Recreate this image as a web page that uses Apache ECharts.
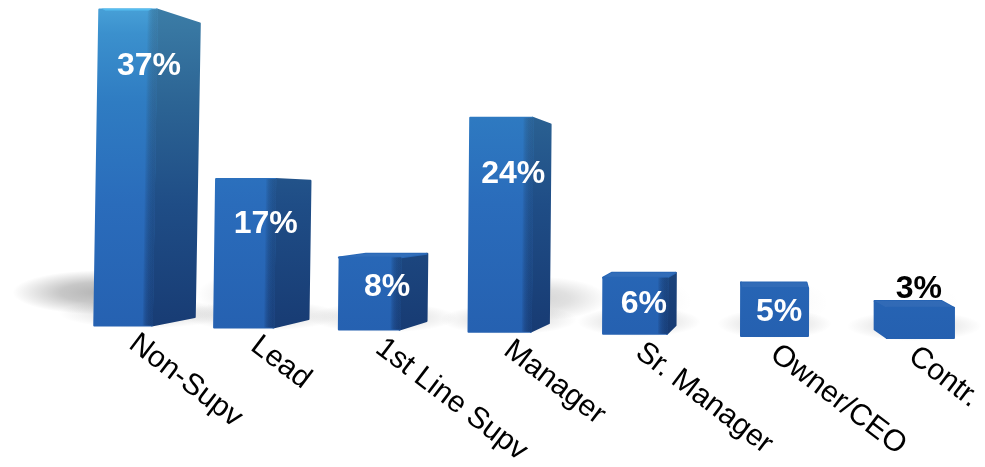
<!DOCTYPE html>
<html>
<head>
<meta charset="utf-8">
<style>html,body{margin:0;padding:0;background:#fff}#chart{width:985px;height:467px}</style>
<script src="https://cdn.jsdelivr.net/npm/echarts@6/dist/echarts.min.js"></script>
</head>
<body>
<div id="chart"></div>
<script>
// Share of respondents by job level
const categories = ['Non-Supv', 'Lead', '1st Line Supv', 'Manager', 'Sr. Manager', 'Owner/CEO', 'Contr.'];
const shares = [37, 17, 8, 24, 6, 5, 3];

const chart = echarts.init(document.getElementById('chart'), null, { renderer: 'canvas' });
const G = echarts.graphic;

// Camera model: how a slot on the flat axes lands on the receding floor.
function project(api, i, v) {
  const base = api.coord([i, -0.3]);
  const top = api.coord([i, v]);
  const centre = base[0] - 13.8 * i + 2.3 * i * i;
  const floor = base[1] + 2.1 * i;
  const h = (base[1] - top[1]) * (1 + 0.013 * i);
  const depth = 43 - 7.4 * i - 0.3 * i * i;
  const front = 57.5 + 1.6 * i;
  const lean = h * 0.016 * (1 - i / 6);
  const total = front + Math.abs(depth);
  return { centre, floor, h, depth, front, lean, total, left: centre - total / 2, top: floor - h };
}

const frontFill = () => new G.LinearGradient(0, 0, 0, 340, [
  { offset: 0, color: '#4ba5da' },
  { offset: 0.1, color: '#3b90cd' },
  { offset: 0.3, color: '#2f7cc2' },
  { offset: 0.6, color: '#2a6cbb' },
  { offset: 1, color: '#2560b0' }
], true);
const sideFill = () => new G.LinearGradient(0, 0, 0, 340, [
  { offset: 0, color: '#3d7fa8' },
  { offset: 0.3, color: '#2c6494' },
  { offset: 0.6, color: '#1f4d86' },
  { offset: 1, color: '#173a72' }
], true);

function poly(points, fill, strokeWidth) {
  return { type: 'polygon', shape: { points },
    style: { fill, stroke: fill, lineWidth: strokeWidth, lineJoin: 'round' } };
}

// Soft blot on the floor: a gradient circle stretched sideways.
function blot(cx, cy, rx, ry, alpha) {
  return {
    type: 'circle',
    x: cx, y: cy, scaleX: rx / ry,
    shape: { cx: 0, cy: 0, r: ry },
    style: { fill: new G.RadialGradient(0.5, 0.5, 0.5, [
      { offset: 0, color: 'rgba(60,60,60,' + alpha + ')' },
      { offset: 0.45, color: 'rgba(60,60,60,' + alpha * 0.75 + ')' },
      { offset: 1, color: 'rgba(60,60,60,0)' }
    ]) }
  };
}

function renderFloorGlow(params, api) {
  const i = api.value(0);
  const p = project(api, i, api.value(1));
  return {
    type: 'group',
    children: [
      // contact shade hugging the base
      blot(p.centre, p.floor - 12, p.total * 0.85, 15, 0.17),
      // cast shadow, longer and darker for taller bars, thrown away from the light
      blot(p.centre + (i - 1.5) * 0.095 * p.h, p.floor - 33, 30 + 0.18 * p.h, 22,
        0.38 * Math.pow(p.h / 316, 1.5))
    ]
  };
}

function renderBar(params, api) {
  const i = api.value(0), v = api.value(1);
  const p = project(api, i, v);
  const d = p.depth, abs = Math.abs(d);
  const topShift = -9 + 0.073 * p.h;
  const bottomShift = abs < 3 ? 0 : -8.5;
  // Front face spans fL..fR; the receding side sits beyond fR (or before fL when d < 0).
  const fL = d < 0 ? p.left + abs : p.left;
  const fR = fL + p.front;
  const sideInner = d > 0 ? fR : fL;
  const sideOuter = sideInner + d;
  const lean = p.lean;
  const children = [];

  // Side face: darkens only when it turns well away from the viewer
  children.push(poly([
    [sideInner + lean, p.top],
    [sideOuter + lean, p.top + topShift],
    [sideOuter, p.floor + bottomShift],
    [sideInner, p.floor]
  ], d > 0 ? sideFill() : frontFill(), 2));

  // Top face, visible only where the bar stays below eye level
  if (topShift < 0) {
    const topFace = [
      [fL, p.top],
      [fL + d, p.top + topShift],
      [fR + d, p.top + topShift],
      [fR, p.top]
    ];
    children.push(poly(topFace, frontFill(), 2));
    children.push({
      type: 'polygon',
      shape: { points: topFace },
      style: { fill: 'rgba(255,255,255,0.05)' }
    });
  }

  // Front face
  children.push(poly([
    [fL + lean, p.top],
    [fR + lean, p.top],
    [fR, p.floor],
    [fL, p.floor]
  ], frontFill(), 2));

  // Soft turn between the front and side faces: stacked slices of the side colour
  if (d > 6) {
    for (let k = 0; k < 9; k++) {
      children.push({
        type: 'polygon',
        shape: { points: [
          [fR - 9 + k + lean, p.top], [fR + lean + 1, p.top], [fR + 1, p.floor], [fR - 9 + k, p.floor]
        ] },
        style: { fill: sideFill(), opacity: 0.2 }
      });
    }
  }

  // Lit rim along the tallest top edge
  if (topShift > 8) {
    children.push({
      type: 'polygon',
      shape: { points: [
        [fL + lean + 2, p.top - 1], [fR + lean - 4, p.top - 1], [fR + lean - 8, p.top + 1], [fL + lean + 6, p.top + 1]
      ] },
      style: { fill: '#55bdf0' }
    });
  }

  // Value label: inside when the bar has room, above it otherwise
  const inside = v >= 4;
  const labelY = inside
    ? p.top + Math.min(56, 15 + 1.7 * v) + 1
    : p.top + topShift - 12;
  children.push({
    type: 'text',
    x: p.centre + 4.5,
    y: labelY,
    style: {
      text: v + '%',
      font: 'bold 32px "Liberation Sans", Arial, sans-serif',
      fill: inside ? '#ffffff' : '#000000',
      align: 'center',
      verticalAlign: 'middle'
    }
  });

  // Category label running down and to the right from under the bar
  children.push({
    type: 'text',
    x: p.centre - 12 + 5.5 * i - 0.65 * i * i,
    y: p.floor + 15,
    rotation: -0.65,
    style: {
      text: categories[i],
      font: '30px "Liberation Sans", Arial, sans-serif',
      fill: '#000000',
      align: 'left',
      verticalAlign: 'middle'
    }
  });

  return { type: 'group', children };
}

const points = shares.map((v, i) => [i, v]);

chart.setOption({
  backgroundColor: '#ffffff',
  animation: false,
  grid: { left: 80.35, width: 898.1, top: 9.4, height: 316 },
  xAxis: { type: 'category', data: categories, show: false },
  yAxis: { type: 'value', min: -0.3, max: 37, show: false },
  series: [
    { type: 'custom', z: 1, silent: true, data: points, renderItem: renderFloorGlow, clip: false },
    { type: 'custom', z: 2, silent: true, data: points, renderItem: renderBar, clip: false }
  ]
});
</script>
</body>
</html>
